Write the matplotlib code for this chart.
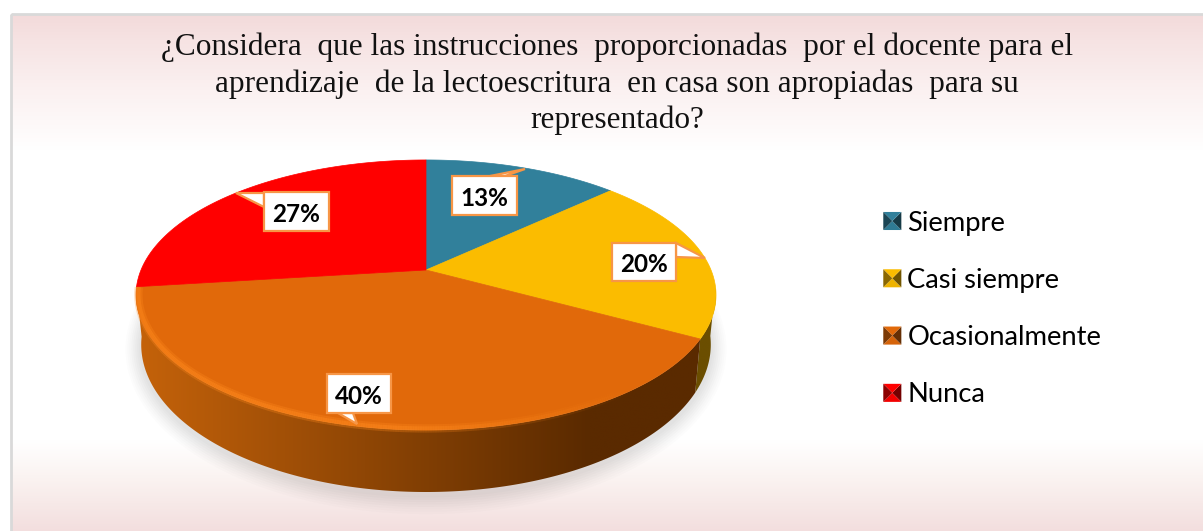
import numpy as np
import matplotlib
matplotlib.use("Agg")
import matplotlib.pyplot as plt
from matplotlib.patches import Polygon, Rectangle
from matplotlib.collections import LineCollection
from matplotlib.legend_handler import HandlerBase
from matplotlib.colors import to_rgb

title_lines = ["¿Considera  que las instrucciones  proporcionadas  por el docente para el",
               "aprendizaje  de la lectoescritura  en casa son apropiadas  para su",
               "representado?"]
categories = ["Siempre", "Casi siempre", "Ocasionalmente", "Nunca"]
values = [13, 20, 40, 27]
colors = ["#31809B", "#FBBC00", "#E1690A", "#FF0000"]
side_left = ["#1F5566", "#8A6A00", "#C4620A", "#A00000"]
side_right = ["#123442", "#6B4E00", "#5A2A00", "#600000"]

W, H = 1203, 531
fig = plt.figure(figsize=(W/100, H/100), dpi=100)
ax = fig.add_axes([0, 0, 1, 1])
ax.set_xlim(0, W); ax.set_ylim(H, 0); ax.axis("off")
ax.set_autoscale_on(False)

# card background
stops_y = [14, 40, 90, 150, 440, 475, 531]
stops_c = ["#F3DADA", "#F6E3E3", "#FBF1F1", "#FFFFFF", "#FFFFFF", "#FBF4F2", "#F3DEDE"]
stops_rgb = [to_rgb(c) for c in stops_c]
ys = np.arange(H)
grad = np.stack([np.interp(ys, stops_y, [c[i] for c in stops_rgb]) for i in range(3)], axis=1)[14:, None, :]
ax.imshow(grad, extent=[11, W, H, 14], aspect="auto", zorder=0, interpolation="bilinear")
ax.add_patch(Rectangle((11, 14), W+20, H, fill=False, ec="#D9D9D9", lw=2, zorder=1))

# perspective mapping of the pie disc to the picture
CX, CY, A, B, K = 426, 270, 285, 130.4, 0.185
def project(theta, r=1.0):
    u, v = r*np.sin(theta), r*np.cos(theta)
    d = 1 + K*v
    return CX + A*u/d, CY - B*v/d
def lower(x, y):
    depth = 50 + (y-300)/130*12
    return CX + (x-CX)*0.982, y + depth

frac = np.array(values)/sum(values)
edges = np.concatenate([[0], np.cumsum(frac)])*2*np.pi

# soft shadow
tt = np.linspace(0, 2*np.pi, 240)
for grow, al in zip(np.linspace(16, 2, 8), [0.015]*3 + [0.025]*5):
    x, y = lower(*project(tt))
    mx, my = x.mean(), y.mean()
    ax.add_patch(Polygon(np.c_[mx+(x-mx)*(1+grow/290), my+(y-my)*(1+grow/135)+3], fc="#555555", ec="none", alpha=al, zorder=2))

# side wall, one gradient per slice
xg = np.linspace(120, 730, 400)
for i in range(len(values)):
    t = np.linspace(edges[i], edges[i+1], 300)
    x, y = project(t)
    keep = y >= 287
    if keep.sum() < 2:
        continue
    x, y = x[keep], y[keep]
    xb, yb = lower(x, y)
    outline = np.r_[np.c_[x, y], np.c_[xb, yb][::-1]]
    s = np.clip((xg-140)/(590-140), 0, 1)[:, None]
    img = ((1-s)*np.array(to_rgb(side_left[i])) + s*np.array(to_rgb(side_right[i])))[None, :, :]
    im = ax.imshow(img, extent=[120, 730, 500, 280], aspect="auto", zorder=3, interpolation="bilinear")
    clip = Polygon(outline, transform=ax.transData, fc="none", ec="none")
    ax.add_patch(clip)
    im.set_clip_path(clip)

# top faces
for i in range(len(values)):
    t = np.linspace(edges[i], edges[i+1], 200)
    x, y = project(t)
    ax.add_patch(Polygon(np.r_[[(CX, CY)], np.c_[x, y]], fc=colors[i], ec=colors[i], lw=0.5, zorder=4))

# bevel highlight along the front rim, fading to the right
t = np.linspace(edges[2]+0.35, edges[3]-0.005, 300)
x, y = project(t, 0.992)
pts = np.c_[x, y].reshape(-1, 1, 2)
segs = np.concatenate([pts[:-1], pts[1:]], axis=1)
fade = np.clip((640-x[:-1])/(640-400), 0, 1)
hl = np.array(to_rgb("#FF8A1E"))
for lw, al in [(6, 0.3), (3, 0.45)]:
    rgba = np.c_[np.tile(hl, (len(fade), 1)), fade*al]
    ax.add_collection(LineCollection(segs, colors=rgba, linewidths=lw, zorder=5))

# data labels with callouts
boxes = [(452, 176, 65, 39), (612, 243, 64, 38), (327, 374, 64, 39), (264, 192, 65, 39)]
tips = [(525, 169), (705, 258), (357, 424), (236, 193)]
bases = [[(490, 176), (505, 176)], [(676, 243), (676, 257)], [(338, 413), (353, 413)], [(264, 193), (264, 207)]]
for v, (bx, by, bw, bh), tip, base in zip(values, boxes, tips, bases):
    ax.add_patch(Polygon([base[0], tip, base[1]], fc="white", ec="#F79646", lw=1.6, joinstyle="miter", zorder=6))
    ax.add_patch(Rectangle((bx, by), bw, bh, fc="white", ec="#F79646", lw=1.6, zorder=7))
    ax.text(bx+bw/2, by+bh/2+3, f"{v}%", ha="center", va="center", family="Lato",
            fontweight="bold", fontsize=17.5, color="black", zorder=8)

# title
for line, y in zip(title_lines, [47, 84, 120]):
    ax.text(617, y, line, ha="center", va="center", family="Liberation Serif", fontsize=22.5, color="#111111", zorder=8)

# legend with bevelled keys
class Bevel(HandlerBase):
    def create_artists(self, legend, orig, xd, yd, w, h, fs, trans):
        c = np.array(to_rgb(orig.get_facecolor()))
        s = 13
        x0, y0 = (w-s)/2 - xd, (h-s)/2 - yd
        m = (x0+s/2, y0+s/2)
        p = [(x0, y0), (x0+s, y0), (x0+s, y0+s), (x0, y0+s)]
        shades = [c*0.95, c*0.45, c, c*0.55]
        return [Polygon([p[j], p[(j+1) % 4], m], fc=shades[j], ec="none", transform=trans) for j in range(4)]

handles = [Rectangle((0, 0), 1, 1, fc=c) for c in colors]
leg = ax.legend(handles, categories, handler_map={Rectangle: Bevel()}, loc="upper left",
                bbox_to_anchor=(880/W, 1-210.5/H), frameon=False, borderpad=0, borderaxespad=0,
                prop={"family": "Lato", "size": 19.7}, labelspacing=1.18, handlelength=0.9,
                handletextpad=0.1, handleheight=0.8)
leg.set_zorder(8)

fig.savefig("out.png", dpi=100)
